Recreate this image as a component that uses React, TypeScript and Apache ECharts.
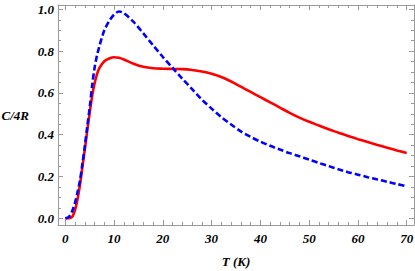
import React, { useEffect, useRef } from "react";
import * as echarts from "echarts";

const redT = [0, 1, 1.5, 2, 2.5, 3, 3.5, 4, 4.5, 5, 5.5, 6, 6.5, 7, 8, 9, 10, 11, 12, 14, 16, 18, 20, 22, 24, 26, 28, 30, 32, 34, 36, 38, 40, 42, 44, 46, 48, 50, 52, 54, 56, 58, 60, 62, 64, 66, 68, 70];
const redC = [0, 0.002, 0.01, 0.04, 0.09, 0.16, 0.245, 0.33, 0.42, 0.505, 0.585, 0.645, 0.69, 0.72, 0.752, 0.765, 0.771, 0.768, 0.76, 0.74, 0.725, 0.718, 0.716, 0.715, 0.714, 0.71, 0.703, 0.692, 0.676, 0.655, 0.63, 0.605, 0.58, 0.555, 0.53, 0.505, 0.482, 0.462, 0.444, 0.426, 0.41, 0.394, 0.379, 0.365, 0.351, 0.338, 0.325, 0.313];

const blueT = [0, 0.5, 1, 1.5, 2, 2.5, 3, 3.5, 4, 4.5, 5, 5.5, 6, 6.5, 7, 7.5, 8, 9, 10, 11, 12, 14, 16, 18, 20, 22, 24, 26, 28, 30, 32, 34, 36, 38, 40, 42, 44, 46, 48, 50, 52, 54, 56, 58, 60, 62, 64, 66, 68, 70];
const blueC = [0, 0.003, 0.015, 0.04, 0.075, 0.125, 0.18, 0.26, 0.345, 0.44, 0.53, 0.635, 0.72, 0.78, 0.825, 0.865, 0.9, 0.945, 0.975, 0.99, 0.982, 0.94, 0.885, 0.828, 0.772, 0.72, 0.668, 0.618, 0.568, 0.525, 0.484, 0.449, 0.416, 0.39, 0.367, 0.347, 0.329, 0.312, 0.297, 0.281, 0.265, 0.25, 0.235, 0.221, 0.209, 0.197, 0.186, 0.175, 0.164, 0.153];

const xMajor = [0, 10, 20, 30, 40, 50, 60, 70];
const xMinor = [2, 4, 6, 8, 12, 14, 16, 18, 22, 24, 26, 28, 32, 34, 36, 38, 42, 44, 46, 48, 52, 54, 56, 58, 62, 64, 66, 68];
const yMajor = [0, 0.2, 0.4, 0.6, 0.8, 1.0];
const yMinor = [0.05, 0.1, 0.15, 0.25, 0.3, 0.35, 0.45, 0.5, 0.55, 0.65, 0.7, 0.75, 0.85, 0.9, 0.95];

const X_MIN = -1.5;
const X_MAX = 71.5;
const Y_MIN = -0.032;
const Y_MAX = 1.021;

const FRAME = "#9a9a9a";
const FONT = "Times New Roman";

export default function App() {
  const ref = useRef<HTMLDivElement>(null);
  useEffect(() => {
    document.body.style.margin = "0";
    const chart = echarts.init(ref.current!, null, { renderer: "svg" });
    const labelStyle = {
      fontFamily: FONT,
      fontWeight: "bold" as const,
      fontStyle: "italic" as const,
      fontSize: 13,
      color: "#000",
    };
    const mkX = (pos: string, ticks: number[], len: number, showLine: boolean, labels: boolean, name?: string) => ({
      type: "value",
      position: pos,
      min: X_MIN,
      max: X_MAX,
      name: name,
      nameLocation: "middle",
      nameGap: 30,
      nameTextStyle: { ...labelStyle, fontSize: 13 },
      axisLine: { show: showLine, onZero: false, lineStyle: { color: FRAME, width: 1 } },
      axisTick: { show: true, inside: true, length: len, customValues: ticks, lineStyle: { color: FRAME, width: 1 } },
      axisLabel: labels
        ? { show: true, customValues: ticks, margin: 7, ...labelStyle, formatter: (v: number) => String(v) }
        : { show: false },
      splitLine: { show: false },
      minorTick: { show: false },
    });
    const mkY = (pos: string, ticks: number[], len: number, showLine: boolean, labels: boolean, name?: string) => ({
      type: "value",
      position: pos,
      min: Y_MIN,
      max: Y_MAX,
      name: name,
      nameLocation: "middle",
      nameRotate: 0,
      nameGap: 29,
      nameTextStyle: { ...labelStyle, fontSize: 13 },
      axisLine: { show: showLine, onZero: false, lineStyle: { color: FRAME, width: 1 } },
      axisTick: { show: true, inside: true, length: len, customValues: ticks, lineStyle: { color: FRAME, width: 1 } },
      axisLabel: labels
        ? { show: true, customValues: ticks, margin: 4, ...labelStyle, formatter: (v: number) => v.toFixed(1) }
        : { show: false },
      splitLine: { show: false },
      minorTick: { show: false },
    });
    chart.setOption({
      animation: false,
      backgroundColor: "#fff",
      textStyle: { fontFamily: FONT },
      grid: { left: 58, right: 1, top: 5, bottom: 46, containLabel: false, outerBoundsMode: "none" },
      xAxis: [
        mkX("bottom", xMajor, 5, true, true, "T (K)"),
        mkX("bottom", xMinor, 3, false, false),
        mkX("top", xMajor, 5, true, false),
        mkX("top", xMinor, 3, false, false),
      ],
      yAxis: [
        mkY("left", yMajor, 5, true, true, "C/4R"),
        mkY("left", yMinor, 3, false, false),
        mkY("right", yMajor, 5, true, false),
        mkY("right", yMinor, 3, false, false),
      ],
      series: [
        {
          type: "line",
          name: "red",
          xAxisIndex: 0,
          yAxisIndex: 0,
          data: redT.map((t, i) => [t, redC[i]]),
          showSymbol: false,
          symbol: "none",
          smooth: 0.3,
          lineStyle: { color: "#ff0000", width: 2.6 },
          z: 3,
        },
        {
          type: "line",
          name: "blue",
          xAxisIndex: 0,
          yAxisIndex: 0,
          data: blueT.map((t, i) => [t, blueC[i]]),
          showSymbol: false,
          symbol: "none",
          smooth: 0.3,
          lineStyle: { color: "#0000ff", width: 2.6, type: [6, 3] },
          z: 4,
        },
      ],
    });
    return () => chart.dispose();
  }, []);
  return <div ref={ref} style={{ width: 415, height: 271 }} />;
}
